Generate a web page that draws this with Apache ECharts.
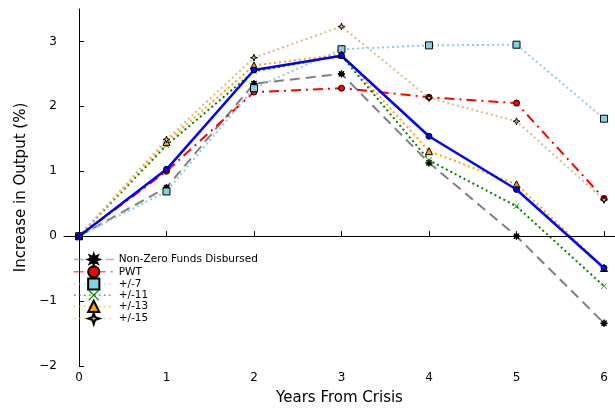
<!DOCTYPE html>
<html>
<head>
<meta charset="utf-8">
<script src="https://cdn.jsdelivr.net/npm/echarts@6/dist/echarts.min.js"></script>
<style>
  html, body { margin: 0; padding: 0; background: #fff; }
  #chart { width: 615px; height: 408px; }
</style>
</head>
<body>
<div id="chart"></div>
<script>
// Years after the crisis and the estimated output response for each specification
const years = [0, 1, 2, 3, 4, 5, 6];
const baseline = [0, 1.03, 2.56, 2.78, 1.54, 0.72, -0.49];
const nonZeroFunds = [0, 0.75, 2.35, 2.50, 1.13, 0.00, -1.34];
const pwt = [0, 1.00, 2.22, 2.28, 2.14, 2.05, 0.58];
const window7 = [0, 0.69, 2.28, 2.88, 2.94, 2.95, 1.81];
const window11 = [0, 1.40, 2.54, 2.78, 1.17, 0.46, -0.77];
const window13 = [0, 1.45, 2.63, 2.80, 1.31, 0.80, -0.49];
const window15 = [0, 1.49, 2.75, 3.23, 2.13, 1.77, 0.56];

const seriesNames = ['Non-Zero Funds Disbursed', 'PWT', '+/-7', '+/-11', '+/-13', '+/-15'];
const xTicks = [0, 1, 2, 3, 4, 5, 6];
const yTicks = [-2, -1, 0, 1, 2, 3];

// star polygon as an svg path for use as a marker shape
function starPath(points, inner) {
  const pts = [];
  for (let i = 0; i < points * 2; i++) {
    const a = Math.PI / 2 + i * Math.PI / points;
    const r = i % 2 === 0 ? 10 : 10 * inner;
    pts.push((10 + r * Math.cos(a)).toFixed(2) + ',' + (10 - r * Math.sin(a)).toFixed(2));
  }
  return 'path://M' + pts.join('L') + 'Z';
}
const star8 = starPath(8, 0.5);
const star4 = starPath(4, 0.35);
const cross = 'path://M0,1.5L1.5,0L10,8.5L18.5,0L20,1.5L11.5,10L20,18.5L18.5,20L10,11.5L1.5,20L0,18.5L8.5,10Z';

const pairs = ys => years.map((x, i) => [x, ys[i]]);
const FONT = 'DejaVu Sans';

function lineSeries(name, ys, color, lineType, width, symbol, size, fill, border) {
  return {
    name: name,
    type: 'line',
    data: pairs(ys),
    symbol: symbol,
    symbolSize: size,
    showAllSymbol: true,
    lineStyle: { color: color, width: width, type: lineType },
    itemStyle: { color: fill, borderColor: border, borderWidth: border ? 1 : 0 },
    emphasis: { disabled: true },
    animation: false
  };
}

const series = [
  lineSeries(seriesNames[0], nonZeroFunds, '#808080', [10, 6], 2, star8, 7, '#000', '#000'),
  lineSeries(seriesNames[1], pwt, '#ff0000', [10, 5, 2, 5], 2, 'circle', 6, '#ff0000', '#000'),
  lineSeries(seriesNames[2], window7, '#87ceeb', [2, 3], 2, 'rect', 7, '#87ceeb', '#000'),
  lineSeries(seriesNames[3], window11, '#008000', [2, 3], 2, cross, 6, '#008000', null),
  lineSeries(seriesNames[4], window13, '#ffa500', [2, 3], 2, 'triangle', 7, '#ffa500', '#000'),
  lineSeries(seriesNames[5], window15, '#deb887', [2, 3], 2, star4, 7, '#deb887', '#000'),
  lineSeries('baseline', baseline, '#0000ff', 'solid', 2.5, 'circle', 6, '#0000ff', '#000')
];
// dotted reference line at zero
series[0].markLine = {
  silent: true,
  symbol: ['none', 'none'],
  label: { show: false },
  lineStyle: { color: '#000', type: [1, 2], width: 1 },
  data: [{ yAxis: 0 }],
  animation: false
};

const chart = echarts.init(document.getElementById('chart'), null, { renderer: 'canvas' });
chart.setOption({
  backgroundColor: '#fff',
  animation: false,
  grid: { left: 64, right: 0, top: 9, bottom: 42, containLabel: false, outerBoundsMode: 'none' },
  legend: {
    data: seriesNames,
    orient: 'vertical',
    left: 73,
    top: 253,
    padding: 0,
    itemWidth: 40,
    itemHeight: 14,
    itemGap: -1,
    selectedMode: false,
    lineStyle: { opacity: 0.6, width: 1.5 },
    textStyle: { fontFamily: FONT, fontSize: 10.5, color: '#000' }
  },
  xAxis: {
    type: 'value',
    min: -0.1714,
    max: 6.1257,
    name: 'Years From Crisis',
    nameLocation: 'middle',
    nameGap: 25,
    nameTextStyle: { fontFamily: FONT, fontSize: 15, color: '#000' },
    axisLine: { lineStyle: { color: '#000', width: 1 } },
    axisTick: { inside: true, length: 5, customValues: xTicks, lineStyle: { color: '#000' } },
    axisLabel: { customValues: xTicks, fontFamily: FONT, fontSize: 12, color: '#000', margin: 6 },
    splitLine: { show: false }
  },
  yAxis: {
    type: 'value',
    min: -2,
    max: 3.5,
    name: 'Increase in Output (%)',
    nameLocation: 'middle',
    nameGap: 35,
    nameTextStyle: { fontFamily: FONT, fontSize: 15, color: '#000' },
    axisLine: { show: true, lineStyle: { color: '#000', width: 1 } },
    axisTick: { show: true, inside: true, length: 5, customValues: yTicks, lineStyle: { color: '#000' } },
    axisLabel: {
      customValues: yTicks,
      fontFamily: FONT, fontSize: 12, color: '#000', margin: 7,
      formatter: v => (v < 0 ? '\u2212' + Math.abs(v) : String(v))
    },
    splitLine: { show: false }
  },
  series: series
});
</script>
</body>
</html>
